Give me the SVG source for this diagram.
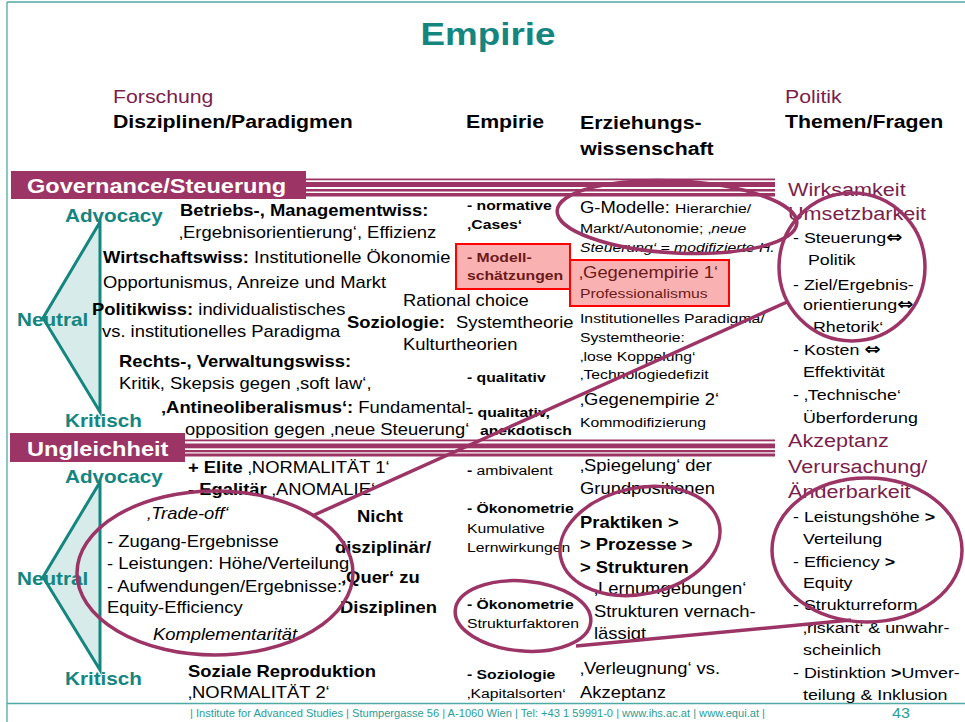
<svg xmlns="http://www.w3.org/2000/svg" width="965" height="722" viewBox="0 0 965 722">
<style>
text{font-family:"Liberation Sans",Arial,"DejaVu Sans",sans-serif;fill:#000;transform-box:fill-box;transform-origin:0 0;transform:scaleX(1.15)}
.ctr{transform-origin:50% 0}
.nos{transform:none}
.b{font-weight:bold}
.i{font-style:italic}
.h{font-size:18.5px;font-weight:bold}
.mg{fill:#7a1e4c}
.tl{font-size:18px;font-weight:bold;fill:#14857f}
.s16{font-size:16px}
.s13{font-size:13.7px}
.r{font-size:15.5px}
.ar{font-family:"DejaVu Sans",sans-serif;font-weight:bold;font-size:17px}
.mh{font-size:18.8px;fill:#7a1e4c}
.red{fill:#6b1a1a}
.bar{fill:#9c3465}
.wt{font-size:20.5px;font-weight:bold;fill:#fff}
.box{fill:#f9b1b1;stroke:#ff0000;stroke-width:2}
.tri{fill:#d6ebea;stroke:#14857f;stroke-width:3;stroke-linejoin:miter}
.hl{fill:none;stroke:#9c3566;stroke-width:3.5}
.frame{stroke:#4fa9a4;stroke-width:1.3;fill:none}
</style>

<!-- page frame -->
<g id="frame">
  <line class="frame" x1="7" y1="2" x2="965" y2="2"/>
  <line class="frame" x1="7" y1="2" x2="7" y2="722"/>
  <line class="frame" x1="7" y1="703.5" x2="965" y2="703.5" stroke="#3aa7a3"/>
</g>

<!-- title and column headers -->
<g id="title">
  <text class="ctr b" x="488" y="45" font-size="32" text-anchor="middle" style="fill:#14857f">Empirie</text>
</g>
<g id="col-headers">
  <text class="mg" x="113" y="103" font-size="18.5">Forschung</text>
  <text class="h" x="113" y="128">Disziplinen/Paradigmen</text>
  <text class="h" x="466" y="128">Empirie</text>
  <text class="h" x="580" y="129">Erziehungs-</text>
  <text class="h" x="580" y="155">wissenschaft</text>
  <text class="mg" x="785" y="103" font-size="18.5">Politik</text>
  <text class="h" x="785" y="128">Themen/Fragen</text>
</g>

<!-- section band: Governance -->
<g id="band-governance">
  <rect class="bar" x="306" y="178.5" width="469" height="1.8"/>
  <rect class="bar" x="306" y="182" width="469" height="5"/>
  <rect class="bar" x="306" y="189" width="469" height="2.5"/>
  <rect class="bar" x="306" y="193" width="469" height="3.5"/>
  <rect class="bar" x="11" y="171" width="295" height="28"/>
  <text class="wt" x="27" y="193">Governance/Steuerung</text>
</g>

<!-- section band: Ungleichheit -->
<g id="band-ungleichheit">
  <rect class="bar" x="185" y="439.5" width="590" height="1.8"/>
  <rect class="bar" x="185" y="443.5" width="590" height="4.8"/>
  <rect class="bar" x="185" y="450" width="590" height="2.3"/>
  <rect class="bar" x="185" y="453.5" width="590" height="3"/>
  <rect class="bar" x="10" y="433" width="175" height="29"/>
  <text class="wt" x="27" y="456">Ungleichheit</text>
</g>

<!-- orientation scales -->
<g id="scale-governance">
  <polygon class="tri" points="100,222 43,318 100,412"/>
  <text class="tl" x="65" y="222">Advocacy</text>
  <text class="tl" x="17" y="326">Neutral</text>
  <text class="tl" x="65" y="427">Kritisch</text>
</g>
<g id="scale-ungleichheit">
  <polygon class="tri" points="100,482 43,577 100,670"/>
  <text class="tl" x="65" y="483">Advocacy</text>
  <text class="tl" x="17" y="585">Neutral</text>
  <text class="tl" x="65" y="685">Kritisch</text>
</g>

<!-- disciplines, governance -->
<g id="disziplinen-governance">
  <text class="s16 b" x="180" y="216">Betriebs-, Managementwiss:</text>
  <text class="s16" x="179" y="238">‚Ergebnisorientierung‘, Effizienz</text>
  <text class="s16" x="103" y="263"><tspan class="b">Wirtschaftswiss:</tspan> Institutionelle Ökonomie</text>
  <text class="s16" x="103" y="288">Opportunismus, Anreize und Markt</text>
  <text class="s16" x="92" y="315"><tspan class="b">Politikwiss:</tspan> individualistisches</text>
  <text class="s16" x="102" y="337">vs. institutionelles Paradigma</text>
  <text class="s16" x="403" y="306">Rational choice</text>
  <text class="s16 b" x="347" y="328">Soziologie:</text>
  <text class="s16" x="456" y="328">Systemtheorie</text>
  <text class="s16" x="403" y="350">Kulturtheorien</text>
  <text class="s16 b" x="119" y="367">Rechts-, Verwaltungswiss:</text>
  <text class="s16" x="119" y="389">Kritik, Skepsis gegen ‚soft law‘,</text>
  <text class="s16" x="161" y="413"><tspan class="b">‚Antineoliberalismus‘:</tspan> Fundamental-</text>
  <text class="s16" x="185" y="435">opposition gegen ‚neue Steuerung‘</text>
</g>

<!-- empirical approaches, governance -->
<g id="empirie-governance">
  <text class="s13 b" x="467" y="210">- normative</text>
  <text class="s13 b" x="467" y="229">‚Cases‘</text>
  <rect class="box" x="456" y="244" width="114" height="45"/>
  <text class="s13 b red" x="467" y="262">- Modell-</text>
  <text class="s13 b red" x="467" y="280">schätzungen</text>
  <text class="s13 b" x="467" y="382">- qualitativ</text>
  <text class="s13 b" x="468" y="417">- qualitativ,</text>
  <text class="s13 b" x="480" y="435">anekdotisch</text>
</g>

<!-- educational science, governance -->
<g id="erziehung-governance">
  <text class="s16" x="580" y="213">G-Modelle: <tspan class="s13">Hierarchie/</tspan></text>
  <text class="s13" x="580" y="233">Markt/Autonomie; ‚<tspan class="i">neue</tspan></text>
  <text class="s13 i" x="580" y="252">Steuerung‘ = modifizierte H.</text>
  <rect class="box" x="570" y="260" width="159" height="46"/>
  <text class="s16 red" x="579" y="278">‚Gegenempirie 1‘</text>
  <text class="s13 red" x="580" y="298">Professionalismus</text>
  <text class="s13" x="580" y="323">Institutionelles Paradigma/</text>
  <text class="s13" x="580" y="342">Systemtheorie:</text>
  <text class="s13" x="580" y="361">‚lose Koppelung‘</text>
  <text class="s13" x="580" y="379">‚Technologiedefizit</text>
  <text class="s16" x="580" y="405">‚Gegenempirie 2‘</text>
  <text class="s13" x="580" y="427">Kommodifizierung</text>
</g>

<!-- policy questions, governance -->
<g id="politik-governance">
  <text class="mh" x="788" y="196">Wirksamkeit</text>
  <text class="mh" x="788" y="220">Umsetzbarkeit</text>
  <text class="r" x="793" y="243">- Steuerung<tspan class="ar">⇔</tspan></text>
  <text class="r" x="808" y="265">Politik</text>
  <text class="r" x="793" y="290">- Ziel/Ergebnis-</text>
  <text class="r" x="803" y="310">orientierung<tspan class="ar">⇔</tspan></text>
  <text class="r" x="813" y="332">Rhetorik‘</text>
  <text class="r" x="793" y="355">- Kosten <tspan class="ar">⇔</tspan></text>
  <text class="r" x="803" y="377">Effektivität</text>
  <text class="r" x="793" y="400">- ‚Technische‘</text>
  <text class="r" x="803" y="423">Überforderung</text>
</g>

<!-- disciplines, inequality -->
<g id="disziplinen-ungleichheit">
  <text class="s16" x="188" y="473"><tspan class="b">+ Elite</tspan> ‚NORMALITÄT 1‘</text>
  <text class="s16" x="188" y="495"><tspan class="b">-  Egalitär</tspan> ‚ANOMALIE‘</text>
  <text class="s16 i" x="147" y="519">‚Trade-off‘</text>
  <text class="s16" x="107" y="547">- Zugang-Ergebnisse</text>
  <text class="s16" x="107" y="569">- Leistungen: Höhe/Verteilung</text>
  <text class="s16" x="107" y="592">- Aufwendungen/Ergebnisse:‘</text>
  <text class="s16" x="107" y="613">Equity-Efficiency</text>
  <text class="s16 i" x="153" y="640">Komplementarität</text>
  <text class="s16 b" x="357" y="522">Nicht</text>
  <text class="s16 b" x="335" y="553">disziplinär/</text>
  <text class="s16 b" x="341" y="583">‚Quer‘ zu</text>
  <text class="s16 b" x="340" y="613">Disziplinen</text>
  <text class="s16 b" x="188" y="677">Soziale Reproduktion</text>
  <text class="s16" x="188" y="698">‚NORMALITÄT 2‘</text>
</g>

<!-- empirical approaches, inequality -->
<g id="empirie-ungleichheit">
  <text class="s13" x="467" y="475"><tspan class="b">-</tspan> ambivalent</text>
  <text class="s13 b" x="467" y="513">- Ökonometrie</text>
  <text class="s13" x="467" y="533">Kumulative</text>
  <text class="s13" x="467" y="552">Lernwirkungen</text>
  <text class="s13 b" x="467" y="609">- Ökonometrie</text>
  <text class="s13" x="467" y="628">Strukturfaktoren</text>
  <text class="s13 b" x="467" y="679">- Soziologie</text>
  <text class="s13" x="467" y="698">‚Kapitalsorten‘</text>
</g>

<!-- educational science, inequality -->
<g id="erziehung-ungleichheit">
  <text class="s16" x="580" y="471">‚Spiegelung‘ der</text>
  <text class="s16" x="580" y="494">Grundpositionen</text>
  <text class="s16 b" x="580" y="528">Praktiken &gt;</text>
  <text class="s16 b" x="580" y="550">&gt; Prozesse &gt;</text>
  <text class="s16 b" x="580" y="573">&gt; Strukturen</text>
  <text class="s16" x="594" y="594">‚Lernumgebungen‘</text>
  <text class="s16" x="594" y="617">Strukturen vernach-</text>
  <text class="s16" x="594" y="639">lässigt</text>
  <text class="s16" x="580" y="674">‚Verleugnung‘ vs.</text>
  <text class="s16" x="580" y="698">Akzeptanz</text>
</g>

<!-- policy questions, inequality -->
<g id="politik-ungleichheit">
  <text class="mh" x="788" y="447">Akzeptanz</text>
  <text class="mh" x="788" y="473">Verursachung/</text>
  <text class="mh" x="788" y="498">Änderbarkeit</text>
  <text class="r" x="793" y="522">- Leistungshöhe <tspan class="b">&gt;</tspan></text>
  <text class="r" x="803" y="544">Verteilung</text>
  <text class="r" x="793" y="567">- Efficiency <tspan class="b">&gt;</tspan></text>
  <text class="r" x="803" y="588">Equity</text>
  <text class="r" x="793" y="610">- Strukturreform</text>
  <text class="r" x="803" y="633">‚riskant‘ &amp; unwahr-</text>
  <text class="r" x="803" y="655">scheinlich</text>
  <text class="r" x="793" y="678">- Distinktion <tspan class="b">&gt;</tspan>Umver-</text>
  <text class="r" x="803" y="700">teilung &amp; Inklusion</text>
</g>

<!-- highlight ellipses -->
<g id="highlights">
  <ellipse class="hl" cx="677" cy="217" rx="120" ry="36" transform="rotate(3 677 217)"/>
  <ellipse class="hl" cx="852" cy="267" rx="73" ry="74"/>
  <ellipse class="hl" cx="215" cy="573" rx="138" ry="82"/>
  <ellipse class="hl" cx="640" cy="541" rx="81" ry="53" transform="rotate(-12 640 541)"/>
  <ellipse class="hl" cx="523" cy="616" rx="68" ry="35" transform="rotate(5 523 616)"/>
  <ellipse class="hl" cx="867" cy="550" rx="95" ry="72"/>
</g>

<!-- connectors between highlights -->
<g id="connectors">
  <line class="hl" x1="312" y1="516" x2="787" y2="302"/>
  <line class="hl" x1="576" y1="646" x2="851" y2="620"/>
</g>

<!-- footer -->
<g id="footer">
  <text class="nos" x="190" y="717" font-size="11" textLength="575" lengthAdjust="spacingAndGlyphs" style="fill:#2a9d98">| Institute for Advanced Studies |  Stumpergasse 56  |  A-1060 Wien  |  Tel: +43 1 59991-0  |  www.ihs.ac.at  |  www.equi.at  |</text>
  <text x="892" y="718" font-size="14" style="fill:#2a9d98">43</text>
</g>
</svg>
